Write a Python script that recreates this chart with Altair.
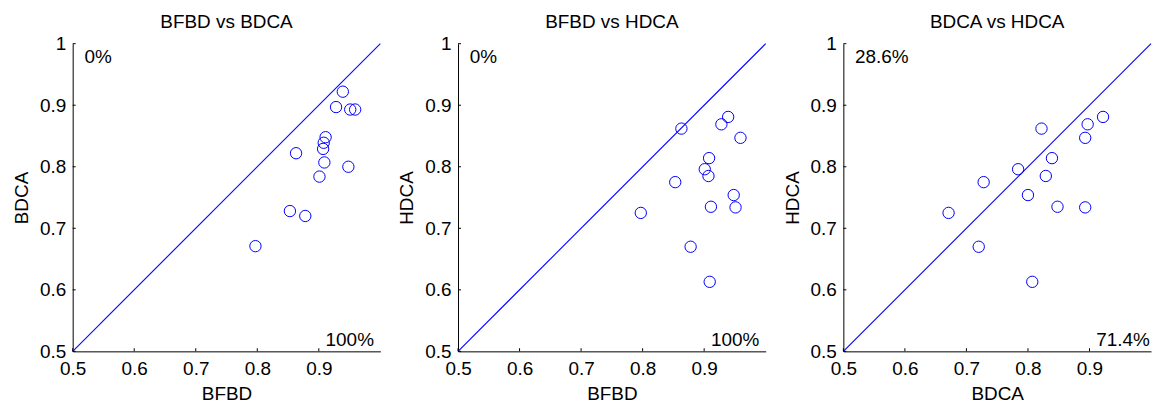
import altair as alt
import pandas as pd

# Scores of the 14 cases under each method
bfbd = [0.797, 0.878, 0.853, 0.901, 0.948, 0.909, 0.863, 0.907, 0.908, 0.911, 0.959, 0.951, 0.928, 0.939]
bdca = [0.671, 0.720, 0.728, 0.784, 0.800, 0.807, 0.822, 0.829, 0.839, 0.848, 0.893, 0.893, 0.897, 0.922]
hdca = [0.725, 0.670, 0.775, 0.796, 0.754, 0.613, 0.862, 0.785, 0.814, 0.735, 0.847, 0.734, 0.869, 0.881]

series = {"BFBD": bfbd, "BDCA": bdca, "HDCA": hdca}

# Panels: (x method, y method, share above diagonal, share below diagonal)
panels = [
    ("BFBD", "BDCA", "0%", "100%"),
    ("BFBD", "HDCA", "0%", "100%"),
    ("BDCA", "HDCA", "28.6%", "71.4%"),
]

axis_range = [0.5, 1.0]
x_ticks = [0.5, 0.6, 0.7, 0.8, 0.9]
y_ticks = [0.5, 0.6, 0.7, 0.8, 0.9, 1.0]
# where the percentage annotations sit, in data units
upper_pos = (0.519, 0.969)
lower_pos = (0.911, 0.508)

FONT = "Liberation Sans"
BLUE = "#0000FF"
SIZE = 309
TICK = 3


def x_enc(title):
    return alt.X(
        "x:Q",
        scale=alt.Scale(domain=axis_range, nice=False, zero=False),
        axis=alt.Axis(values=x_ticks, title=title, format="~g", labelFlush=False,
                      labelPadding=8, titlePadding=6),
    )


def y_enc(title):
    return alt.Y(
        "y:Q",
        scale=alt.Scale(domain=axis_range, nice=False, zero=False),
        axis=alt.Axis(values=y_ticks, title=title, format="~g", labelFlush=False,
                      labelPadding=7, titlePadding=8),
    )


def panel(xname, yname, up, low):
    tag = f"{xname} vs {yname}"
    pts_df = pd.DataFrame({"x": series[xname], "y": series[yname], "panel": tag})
    diag_df = pd.DataFrame({"x": axis_range, "y": axis_range, "panel": tag})
    xt_df = pd.DataFrame({"x": x_ticks, "y": axis_range[0], "panel": tag})
    yt_df = pd.DataFrame({"x": axis_range[0], "y": y_ticks, "panel": tag})
    txt_df = pd.DataFrame({
        "x": [upper_pos[0], lower_pos[0]],
        "y": [upper_pos[1], lower_pos[1]],
        "label": [up, low],
        "panel": tag,
    })

    # short tick marks on the inner side of each axis
    xt = alt.Chart(xt_df).mark_tick(
        orient="vertical", color="black", size=TICK, thickness=1, opacity=1,
        yOffset=-TICK / 2,
    ).encode(x=x_enc(xname), y=y_enc(yname))
    yt = alt.Chart(yt_df).mark_tick(
        orient="horizontal", color="black", size=TICK, thickness=1, opacity=1,
        xOffset=TICK / 2,
    ).encode(x=x_enc(xname), y=y_enc(yname))
    pts = alt.Chart(pts_df).mark_point(
        shape="circle", filled=False, color=BLUE, size=130, strokeWidth=1, opacity=1
    ).encode(x=x_enc(xname), y=y_enc(yname))
    txt = alt.Chart(txt_df).mark_text(
        align="left", baseline="alphabetic", fontSize=19, font=FONT, color="black"
    ).encode(x=x_enc(xname), y=y_enc(yname), text="label:N")
    diag = alt.Chart(diag_df).mark_line(
        color=BLUE, strokeWidth=1.1, strokeOpacity=0.99
    ).encode(x=x_enc(xname), y=y_enc(yname))

    return alt.layer(diag, xt, yt, pts, txt).properties(
        width=SIZE,
        height=SIZE,
        title=alt.TitleParams(
            tag,
            fontSize=19,
            fontWeight="normal",
            font=FONT,
            color="black",
            anchor="middle",
            baseline="alphabetic",
            frame="group",
            offset=-12,
        ),
    )


chart = alt.hconcat(
    *[panel(*p) for p in panels], spacing=14
).properties(
    padding={"left": 12, "top": 12, "right": 3, "bottom": 3}
).configure_view(
    stroke=None
).configure_axis(
    grid=False,
    ticks=False,
    domainColor="black",
    domainWidth=1,
    labelFont=FONT,
    labelFontSize=19,
    labelColor="black",
    titleFont=FONT,
    titleFontSize=19,
    titleFontWeight="normal",
    titleColor="black",
)

chart.save("out.html", embed_options={"renderer": "svg", "actions": False})
